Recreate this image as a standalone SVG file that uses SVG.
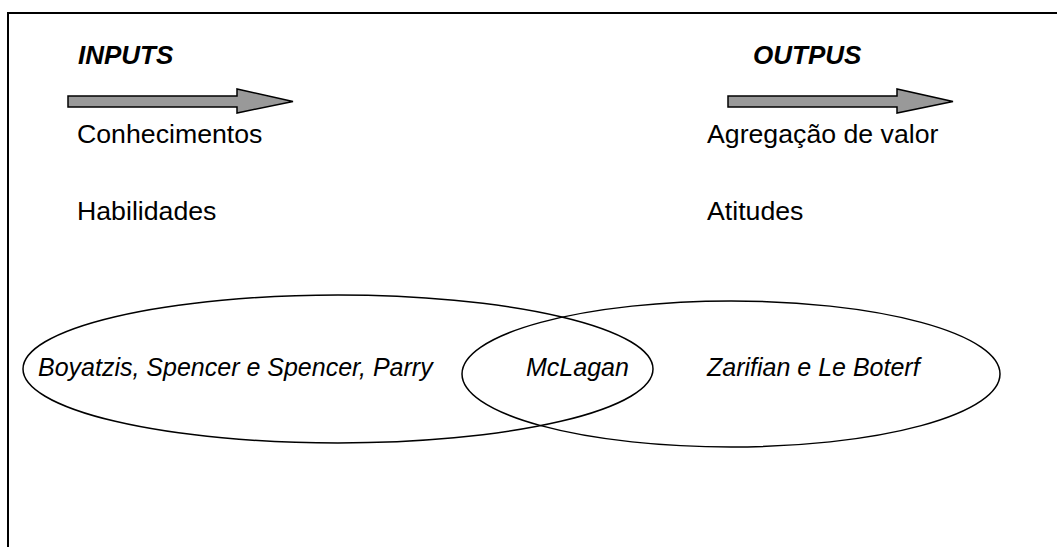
<svg xmlns="http://www.w3.org/2000/svg" width="1057" height="547" viewBox="0 0 1057 547">
  <style>
    .frame { fill: none; stroke: #000; stroke-width: 2; }
    .arrow { fill: #999999; stroke: #000; stroke-width: 1.5; stroke-linejoin: miter; }
    .head { font-family: "Liberation Sans", Arial, sans-serif; font-size: 26px; font-weight: bold; font-style: italic; fill: #000; }
    .item { font-family: "Liberation Sans", Arial, sans-serif; font-size: 26.7px; fill: #000; }
    .set { fill: none; stroke: #000; stroke-width: 1.5; }
    .setlabel { font-family: "Liberation Sans", Arial, sans-serif; font-size: 25px; font-style: italic; fill: #000; }
  </style>
  <defs>
    <path id="block-arrow" d="M0,-5 L169,-5 L169,-12 L225,0.5 L169,12 L169,6 L0,6 Z"/>
  </defs>
  <rect width="1057" height="547" fill="#fff"/>

  <!-- page frame (open to the right and bottom) -->
  <polyline class="frame" points="1060,13 8,13 8,550"/>

  <g id="inputs">
    <text class="head" x="78" y="64">INPUTS</text>
    <use href="#block-arrow" class="arrow" x="68" y="101"/>
    <text class="item" x="77" y="143">Conhecimentos</text>
    <text class="item" x="77" y="220">Habilidades</text>
  </g>

  <g id="outputs">
    <text class="head" x="753" y="64">OUTPUS</text>
    <use href="#block-arrow" class="arrow" x="728" y="101"/>
    <text class="item" x="707" y="143">Agregação de valor</text>
    <text class="item" x="707" y="220">Atitudes</text>
  </g>

  <g id="set-left">
    <ellipse class="set" cx="338" cy="369" rx="315" ry="74"/>
    <text class="setlabel" x="38" y="376">Boyatzis, Spencer e Spencer, Parry</text>
  </g>

  <g id="set-right">
    <ellipse class="set" cx="731" cy="374" rx="269" ry="73"/>
    <text class="setlabel" x="707" y="376">Zarifian e Le Boterf</text>
  </g>

  <g id="overlap">
    <text class="setlabel" x="526" y="376">McLagan</text>
  </g>
</svg>
